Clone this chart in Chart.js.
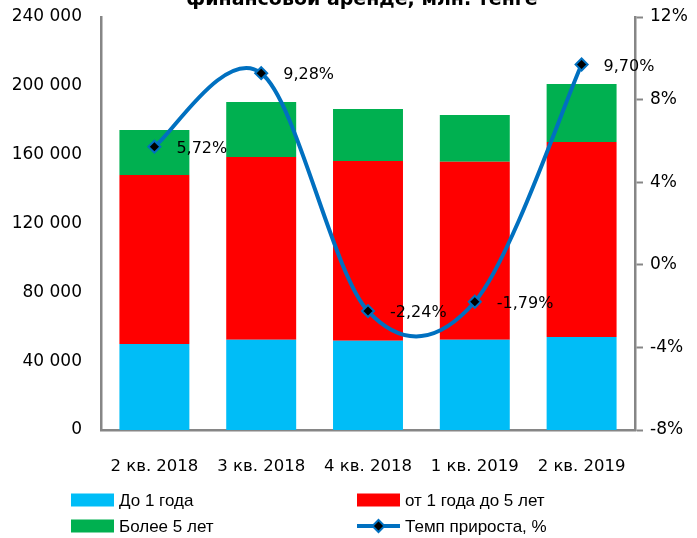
<!DOCTYPE html>
<html>
<head>
<meta charset="utf-8">
<script src="https://cdn.jsdelivr.net/npm/chart.js@4.4.1/dist/chart.umd.min.js"></script>
<style>
  html, body { margin: 0; padding: 0; background: #fff; }
  #wrap { width: 697px; height: 538px; }
</style>
</head>
<body>
<div id="wrap"><canvas id="leaseChart" width="697" height="538"></canvas></div>
<script>
// data
var chartTitle = "финансовой аренде, млн. тенге";
var quarters = ["2 кв. 2018", "3 кв. 2018", "4 кв. 2018", "1 кв. 2019", "2 кв. 2019"];
var seriesNames = ["До 1 года", "от 1 года до 5 лет", "Более 5 лет", "Темп прироста, %"];
var upTo1Year = [50000, 52500, 51800, 52500, 54000];
var from1To5Years = [98200, 106100, 104500, 103400, 113300];
var over5Years = [26100, 32000, 30200, 27100, 33700];
var growthRate = [5.72, 9.28, -2.24, -1.79, 9.70];
var leftTicks = [0, 40000, 80000, 120000, 160000, 200000, 240000];
var rightTicks = [-8, -4, 0, 4, 8, 12];

var FONT = "DejaVu Sans";
var LEGEND_FONT = "Liberation Sans";
var AXIS_GREY = "#868686";
var LINE_BLUE = "#0070C0";

function fmtThousands(v) {
  return String(v).replace(/\B(?=(\d{3})+(?!\d))/g, " ");
}
function fmtPct(v) {
  return v.toFixed(2).replace(".", ",") + "%";
}

// title is cut off by the top edge in the reference
var titlePlugin = {
  id: "cutTitle",
  afterDraw: function (chart) {
    var ctx = chart.ctx;
    ctx.save();
    ctx.font = "bold 19px '" + FONT + "'";
    ctx.fillStyle = "#000";
    ctx.textAlign = "center";
    ctx.textBaseline = "alphabetic";
    ctx.fillText(chartTitle, 362, 5);
    ctx.restore();
  }
};

// excel-style smoothing: uniform catmull-rom control points (1/6 of neighbour span)
var excelSmooth = {
  id: "excelSmooth",
  beforeDatasetDraw: function (chart, args) {
    if (args.index !== 3) return;
    var pts = args.meta.data;
    var n = pts.length;
    for (var i = 0; i < n; i++) {
      var prev = pts[Math.max(i - 1, 0)];
      var next = pts[Math.min(i + 1, n - 1)];
      var dx = (next.x - prev.x) / 6;
      var dy = (next.y - prev.y) / 6;
      pts[i].cp1x = pts[i].x - dx;
      pts[i].cp1y = pts[i].y - dy;
      pts[i].cp2x = pts[i].x + dx;
      pts[i].cp2y = pts[i].y + dy;
    }
    args.meta.dataset._pointsUpdated = true;
  }
};

// percent labels to the right of each marker
var pointLabels = {
  id: "pointLabels",
  afterDatasetsDraw: function (chart) {
    var ctx = chart.ctx;
    var meta = chart.getDatasetMeta(3);
    ctx.save();
    ctx.font = "16px '" + FONT + "'";
    ctx.fillStyle = "#000";
    ctx.textAlign = "left";
    ctx.textBaseline = "middle";
    meta.data.forEach(function (pt, i) {
      ctx.fillText(fmtPct(growthRate[i]), pt.x + 22, pt.y + 2);
    });
    ctx.restore();
  }
};

// two column legend under the axis
var gridLegend = {
  id: "gridLegend",
  afterDraw: function (chart) {
    var ctx = chart.ctx;
    var cols = [71, 357];
    var rows = [500, 526];
    ctx.save();
    ctx.font = "17px '" + LEGEND_FONT + "'";
    ctx.textBaseline = "middle";
    ctx.textAlign = "left";
    chart.data.datasets.forEach(function (ds, i) {
      var x = cols[i % 2];
      var y = rows[Math.floor(i / 2)];
      if (ds.type === "line") {
        ctx.strokeStyle = LINE_BLUE;
        ctx.lineWidth = 4;
        ctx.beginPath();
        ctx.moveTo(x, y);
        ctx.lineTo(x + 43, y);
        ctx.stroke();
        var cx = x + 21.5;
        ctx.beginPath();
        ctx.moveTo(cx, y - 6);
        ctx.lineTo(cx + 6, y);
        ctx.lineTo(cx, y + 6);
        ctx.lineTo(cx - 6, y);
        ctx.closePath();
        ctx.fillStyle = "#000";
        ctx.fill();
        ctx.lineWidth = 2;
        ctx.stroke();
      } else {
        ctx.fillStyle = ds.backgroundColor;
        ctx.fillRect(x, y - 6.5, 43, 13);
      }
      ctx.fillStyle = "#000";
      ctx.fillText(ds.label, x + 48, y + 1);
    });
    ctx.restore();
  }
};

var ctx = document.getElementById("leaseChart").getContext("2d");
var chart = new Chart(ctx, {
  type: "bar",
  data: {
    labels: quarters,
    datasets: [
      { label: seriesNames[0], data: upTo1Year, backgroundColor: "#00BDF7", yAxisID: "y", order: 1 },
      { label: seriesNames[1], data: from1To5Years, backgroundColor: "#FF0000", yAxisID: "y", order: 1 },
      { label: seriesNames[2], data: over5Years, backgroundColor: "#00B050", yAxisID: "y", order: 1 },
      {
        type: "line",
        label: seriesNames[3],
        data: growthRate,
        yAxisID: "y2",
        order: 0,
        borderColor: LINE_BLUE,
        borderWidth: 4,
        tension: 0.5,
        pointStyle: "rectRot",
        pointRadius: 6,
        pointBackgroundColor: "#000",
        pointBorderColor: LINE_BLUE,
        pointBorderWidth: 2,
        clip: false
      }
    ]
  },
  options: {
    responsive: false,
    devicePixelRatio: 1,
    animation: false,
    barPercentage: 0.655,
    categoryPercentage: 1.0,
    layout: { padding: { top: 17, left: 0, right: 0, bottom: 0 } },
    plugins: {
      legend: { display: false },
      title: { display: false },
      tooltip: { enabled: false }
    },
    scales: {
      x: {
        stacked: true,
        grid: { display: false, drawTicks: false },
        border: { display: true, color: AXIS_GREY, width: 2.5 },
        ticks: { color: "#000", font: { family: FONT, size: 16.5 }, padding: 27, maxRotation: 0 },
        afterFit: function (s) { s.height = 108; }
      },
      y: {
        stacked: true,
        position: "left",
        min: 0,
        max: 240000,
        grid: { display: false, drawTicks: false },
        border: { display: true, color: AXIS_GREY, width: 2.5 },
        afterBuildTicks: function (s) { s.ticks = leftTicks.map(function (v) { return { value: v }; }); },
        ticks: {
          color: "#000",
          font: { family: FONT, size: 17 },
          padding: 19,
          callback: function (v) { return fmtThousands(v); }
        },
        afterFit: function (s) { s.width = 101; s.paddingTop = 0; s.paddingBottom = 0; }
      },
      y2: {
        position: "right",
        min: -8,
        max: 12,
        grid: { display: true, drawOnChartArea: false, drawTicks: true, tickLength: 8, tickWidth: 2, tickColor: AXIS_GREY },
        border: { display: true, color: AXIS_GREY, width: 2.5 },
        afterBuildTicks: function (s) { s.ticks = rightTicks.map(function (v) { return { value: v }; }); },
        ticks: {
          color: "#000",
          font: { family: FONT, size: 17 },
          padding: 7,
          callback: function (v) { return v + "%"; }
        },
        afterFit: function (s) { s.width = 62; s.paddingTop = 0; s.paddingBottom = 0; }
      }
    }
  },
  plugins: [titlePlugin, excelSmooth, pointLabels, gridLegend]
});
</script>
</body>
</html>
